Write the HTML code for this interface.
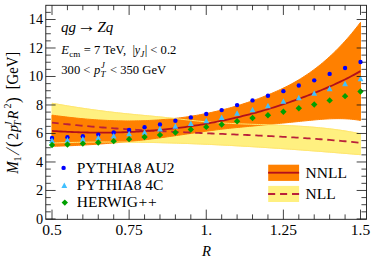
<!DOCTYPE html>
<html lang="en"><head><meta charset="utf-8"><title>plot</title>
<style>html,body{margin:0;padding:0;background:#fff;}svg{display:block;}</style></head>
<body>
<svg width="374" height="260" viewBox="0 0 374 260">
<rect x="0" y="0" width="374" height="260" fill="#ffffff"/>
<polygon points="52.00,103.26 54.22,103.65 56.44,104.03 58.66,104.42 60.88,104.80 63.10,105.17 65.32,105.54 67.54,105.91 69.76,106.27 71.97,106.62 74.19,106.97 76.41,107.32 78.63,107.66 80.85,108.00 83.07,108.33 85.29,108.66 87.51,108.98 89.73,109.29 91.95,109.61 94.17,109.91 96.39,110.21 98.61,110.51 100.83,110.80 103.05,111.09 105.27,111.37 107.49,111.64 109.71,111.91 111.92,112.17 114.14,112.43 116.36,112.68 118.58,112.93 120.80,113.17 123.02,113.41 125.24,113.64 127.46,113.86 129.68,114.08 131.90,114.30 134.12,114.52 136.34,114.73 138.56,114.94 140.78,115.15 143.00,115.35 145.22,115.56 147.44,115.77 149.65,115.98 151.87,116.18 154.09,116.39 156.31,116.60 158.53,116.82 160.75,117.04 162.97,117.25 165.19,117.48 167.41,117.71 169.63,117.94 171.85,118.18 174.07,118.42 176.29,118.67 178.51,118.92 180.73,119.18 182.95,119.43 185.17,119.68 187.38,119.94 189.60,120.19 191.82,120.43 194.04,120.67 196.26,120.90 198.48,121.13 200.70,121.34 202.92,121.55 205.14,121.75 207.36,121.93 209.58,122.11 211.80,122.28 214.02,122.44 216.24,122.59 218.46,122.74 220.68,122.87 222.90,123.01 225.12,123.13 227.33,123.25 229.55,123.36 231.77,123.47 233.99,123.57 236.21,123.67 238.43,123.77 240.65,123.86 242.87,123.95 245.09,124.03 247.31,124.11 249.53,124.19 251.75,124.27 253.97,124.35 256.19,124.42 258.41,124.50 260.63,124.57 262.85,124.65 265.06,124.72 267.28,124.80 269.50,124.88 271.72,124.96 273.94,125.04 276.16,125.12 278.38,125.21 280.60,125.30 282.82,125.39 285.04,125.49 287.26,125.59 289.48,125.69 291.70,125.80 293.92,125.92 296.14,126.04 298.36,126.17 300.58,126.31 302.79,126.45 305.01,126.60 307.23,126.75 309.45,126.92 311.67,127.09 313.89,127.27 316.11,127.46 318.33,127.66 320.55,127.88 322.77,128.10 324.99,128.33 327.21,128.57 329.43,128.83 331.65,129.09 333.87,129.37 336.09,129.66 338.31,129.97 340.53,130.28 342.74,130.62 344.96,130.96 347.18,131.32 349.40,131.70 351.62,132.09 353.84,132.49 356.06,132.92 358.28,133.35 360.50,133.81 360.50,154.66 358.28,154.47 356.06,154.29 353.84,154.10 351.62,153.92 349.40,153.74 347.18,153.55 344.96,153.37 342.74,153.19 340.53,153.01 338.31,152.83 336.09,152.65 333.87,152.47 331.65,152.30 329.43,152.12 327.21,151.95 324.99,151.77 322.77,151.60 320.55,151.43 318.33,151.25 316.11,151.08 313.89,150.91 311.67,150.75 309.45,150.58 307.23,150.41 305.01,150.25 302.79,150.08 300.58,149.92 298.36,149.76 296.14,149.60 293.92,149.44 291.70,149.28 289.48,149.12 287.26,148.97 285.04,148.81 282.82,148.66 280.60,148.51 278.38,148.35 276.16,148.20 273.94,148.06 271.72,147.91 269.50,147.76 267.28,147.62 265.06,147.48 262.85,147.34 260.63,147.20 258.41,147.06 256.19,146.92 253.97,146.78 251.75,146.65 249.53,146.52 247.31,146.39 245.09,146.26 242.87,146.13 240.65,146.00 238.43,145.88 236.21,145.76 233.99,145.63 231.77,145.51 229.55,145.40 227.33,145.28 225.12,145.17 222.90,145.05 220.68,144.94 218.46,144.83 216.24,144.73 214.02,144.62 211.80,144.52 209.58,144.41 207.36,144.31 205.14,144.22 202.92,144.12 200.70,144.02 198.48,143.93 196.26,143.84 194.04,143.75 191.82,143.67 189.60,143.58 187.38,143.50 185.17,143.42 182.95,143.34 180.73,143.26 178.51,143.19 176.29,143.12 174.07,143.05 171.85,142.98 169.63,142.91 167.41,142.85 165.19,142.79 162.97,142.73 160.75,142.67 158.53,142.62 156.31,142.57 154.09,142.52 151.87,142.47 149.65,142.42 147.44,142.38 145.22,142.34 143.00,142.30 140.78,142.27 138.56,142.23 136.34,142.20 134.12,142.17 131.90,142.15 129.68,142.12 127.46,142.10 125.24,142.08 123.02,142.07 120.80,142.06 118.58,142.04 116.36,142.04 114.14,142.03 111.92,142.03 109.71,142.03 107.49,142.03 105.27,142.04 103.05,142.04 100.83,142.05 98.61,142.07 96.39,142.08 94.17,142.10 91.95,142.12 89.73,142.15 87.51,142.17 85.29,142.20 83.07,142.24 80.85,142.27 78.63,142.31 76.41,142.35 74.19,142.40 71.97,142.45 69.76,142.50 67.54,142.55 65.32,142.61 63.10,142.67 60.88,142.73 58.66,142.80 56.44,142.86 54.22,142.94 52.00,143.01" fill="#fff080" stroke="#fff080" stroke-width="1" stroke-linejoin="miter"/>
<polygon points="52.00,115.11 54.22,115.42 56.44,115.72 58.66,116.01 60.88,116.30 63.10,116.58 65.32,116.85 67.54,117.12 69.76,117.37 71.97,117.62 74.19,117.86 76.41,118.10 78.63,118.32 80.85,118.54 83.07,118.74 85.29,118.94 87.51,119.13 89.73,119.31 91.95,119.49 94.17,119.65 96.39,119.80 98.61,119.95 100.83,120.08 103.05,120.21 105.27,120.32 107.49,120.43 109.71,120.53 111.92,120.61 114.14,120.69 116.36,120.75 118.58,120.81 120.80,120.85 123.02,120.89 125.24,120.91 127.46,120.93 129.68,120.93 131.90,120.92 134.12,120.90 136.34,120.87 138.56,120.83 140.78,120.77 143.00,120.71 145.22,120.63 147.44,120.54 149.65,120.44 151.87,120.33 154.09,120.21 156.31,120.07 158.53,119.92 160.75,119.76 162.97,119.58 165.19,119.40 167.41,119.20 169.63,118.98 171.85,118.76 174.07,118.52 176.29,118.27 178.51,118.00 180.73,117.72 182.95,117.43 185.17,117.13 187.38,116.81 189.60,116.47 191.82,116.13 194.04,115.76 196.26,115.39 198.48,115.00 200.70,114.59 202.92,114.17 205.14,113.74 207.36,113.29 209.58,112.83 211.80,112.35 214.02,111.85 216.24,111.35 218.46,110.82 220.68,110.28 222.90,109.73 225.12,109.15 227.33,108.57 229.55,107.96 231.77,107.35 233.99,106.71 236.21,106.06 238.43,105.39 240.65,104.71 242.87,104.01 245.09,103.29 247.31,102.56 249.53,101.81 251.75,101.04 253.97,100.25 256.19,99.45 258.41,98.63 260.63,97.79 262.85,96.94 265.06,96.07 267.28,95.18 269.50,94.27 271.72,93.34 273.94,92.39 276.16,91.42 278.38,90.42 280.60,89.40 282.82,88.35 285.04,87.27 287.26,86.16 289.48,85.01 291.70,83.83 293.92,82.61 296.14,81.35 298.36,80.05 300.58,78.71 302.79,77.32 305.01,75.89 307.23,74.41 309.45,72.89 311.67,71.31 313.89,69.69 316.11,68.01 318.33,66.29 320.55,64.51 322.77,62.68 324.99,60.79 327.21,58.85 329.43,56.85 331.65,54.79 333.87,52.68 336.09,50.50 338.31,48.27 340.53,45.97 342.74,43.61 344.96,41.19 347.18,38.70 349.40,36.15 351.62,33.53 353.84,30.84 356.06,28.08 358.28,25.25 360.50,22.35 360.50,120.45 358.28,120.08 356.06,119.76 353.84,119.48 351.62,119.25 349.40,119.06 347.18,118.90 344.96,118.79 342.74,118.70 340.53,118.66 338.31,118.64 336.09,118.65 333.87,118.69 331.65,118.76 329.43,118.85 327.21,118.96 324.99,119.09 322.77,119.24 320.55,119.41 318.33,119.59 316.11,119.78 313.89,119.98 311.67,120.20 309.45,120.41 307.23,120.63 305.01,120.86 302.79,121.09 300.58,121.31 298.36,121.54 296.14,121.76 293.92,121.98 291.70,122.21 289.48,122.43 287.26,122.66 285.04,122.88 282.82,123.10 280.60,123.32 278.38,123.54 276.16,123.76 273.94,123.98 271.72,124.20 269.50,124.42 267.28,124.64 265.06,124.85 262.85,125.07 260.63,125.28 258.41,125.49 256.19,125.71 253.97,125.92 251.75,126.13 249.53,126.33 247.31,126.54 245.09,126.75 242.87,126.96 240.65,127.17 238.43,127.38 236.21,127.60 233.99,127.82 231.77,128.05 229.55,128.28 227.33,128.53 225.12,128.78 222.90,129.04 220.68,129.31 218.46,129.58 216.24,129.86 214.02,130.15 211.80,130.44 209.58,130.74 207.36,131.05 205.14,131.35 202.92,131.67 200.70,131.98 198.48,132.30 196.26,132.62 194.04,132.95 191.82,133.27 189.60,133.60 187.38,133.93 185.17,134.25 182.95,134.58 180.73,134.91 178.51,135.24 176.29,135.56 174.07,135.88 171.85,136.20 169.63,136.52 167.41,136.84 165.19,137.15 162.97,137.45 160.75,137.76 158.53,138.05 156.31,138.34 154.09,138.63 151.87,138.91 149.65,139.19 147.44,139.46 145.22,139.72 143.00,139.98 140.78,140.24 138.56,140.49 136.34,140.73 134.12,140.97 131.90,141.21 129.68,141.44 127.46,141.66 125.24,141.88 123.02,142.09 120.80,142.30 118.58,142.51 116.36,142.70 114.14,142.90 111.92,143.09 109.71,143.27 107.49,143.45 105.27,143.62 103.05,143.79 100.83,143.95 98.61,144.11 96.39,144.27 94.17,144.41 91.95,144.56 89.73,144.70 87.51,144.83 85.29,144.96 83.07,145.08 80.85,145.20 78.63,145.32 76.41,145.43 74.19,145.53 71.97,145.63 69.76,145.73 67.54,145.82 65.32,145.90 63.10,145.98 60.88,146.06 58.66,146.13 56.44,146.19 54.22,146.26 52.00,146.31" fill="#ff8000" stroke="#ff8000" stroke-width="1" stroke-linejoin="miter"/>
<polyline points="52.00,103.26 54.22,103.65 56.44,104.03 58.66,104.42 60.88,104.80 63.10,105.17 65.32,105.54 67.54,105.91 69.76,106.27 71.97,106.62 74.19,106.97 76.41,107.32 78.63,107.66 80.85,108.00 83.07,108.33 85.29,108.66 87.51,108.98 89.73,109.29 91.95,109.61 94.17,109.91 96.39,110.21 98.61,110.51 100.83,110.80 103.05,111.09 105.27,111.37 107.49,111.64 109.71,111.91 111.92,112.17 114.14,112.43 116.36,112.68 118.58,112.93 120.80,113.17 123.02,113.41 125.24,113.64 127.46,113.86 129.68,114.08 131.90,114.30 134.12,114.52 136.34,114.73 138.56,114.94 140.78,115.15 143.00,115.35 145.22,115.56 147.44,115.77 149.65,115.98 151.87,116.18 154.09,116.39 156.31,116.60 158.53,116.82 160.75,117.04 162.97,117.25 165.19,117.48 167.41,117.71 169.63,117.94 171.85,118.18 174.07,118.42 176.29,118.67 178.51,118.92 180.73,119.18 182.95,119.43 185.17,119.68 187.38,119.94 189.60,120.19 191.82,120.43 194.04,120.67 196.26,120.90 198.48,121.13 200.70,121.34 202.92,121.55 205.14,121.75 207.36,121.93 209.58,122.11 211.80,122.28 214.02,122.44 216.24,122.59 218.46,122.74 220.68,122.87 222.90,123.01 225.12,123.13 227.33,123.25 229.55,123.36 231.77,123.47 233.99,123.57 236.21,123.67 238.43,123.77 240.65,123.86 242.87,123.95 245.09,124.03 247.31,124.11 249.53,124.19 251.75,124.27 253.97,124.35 256.19,124.42 258.41,124.50 260.63,124.57 262.85,124.65 265.06,124.72 267.28,124.80 269.50,124.88 271.72,124.96 273.94,125.04 276.16,125.12 278.38,125.21 280.60,125.30 282.82,125.39 285.04,125.49 287.26,125.59 289.48,125.69 291.70,125.80 293.92,125.92 296.14,126.04 298.36,126.17 300.58,126.31 302.79,126.45 305.01,126.60 307.23,126.75 309.45,126.92 311.67,127.09 313.89,127.27 316.11,127.46 318.33,127.66 320.55,127.88 322.77,128.10 324.99,128.33 327.21,128.57 329.43,128.83 331.65,129.09 333.87,129.37 336.09,129.66 338.31,129.97 340.53,130.28 342.74,130.62 344.96,130.96 347.18,131.32 349.40,131.70 351.62,132.09 353.84,132.49 356.06,132.92 358.28,133.35 360.50,133.81" fill="none" stroke="#ffe670" stroke-width="1.0" />
<polyline points="52.00,143.01 54.22,142.94 56.44,142.86 58.66,142.80 60.88,142.73 63.10,142.67 65.32,142.61 67.54,142.55 69.76,142.50 71.97,142.45 74.19,142.40 76.41,142.35 78.63,142.31 80.85,142.27 83.07,142.24 85.29,142.20 87.51,142.17 89.73,142.15 91.95,142.12 94.17,142.10 96.39,142.08 98.61,142.07 100.83,142.05 103.05,142.04 105.27,142.04 107.49,142.03 109.71,142.03 111.92,142.03 114.14,142.03 116.36,142.04 118.58,142.04 120.80,142.06 123.02,142.07 125.24,142.08 127.46,142.10 129.68,142.12 131.90,142.15 134.12,142.17 136.34,142.20 138.56,142.23 140.78,142.27 143.00,142.30 145.22,142.34 147.44,142.38 149.65,142.42 151.87,142.47 154.09,142.52 156.31,142.57 158.53,142.62 160.75,142.67 162.97,142.73 165.19,142.79 167.41,142.85 169.63,142.91 171.85,142.98 174.07,143.05 176.29,143.12 178.51,143.19 180.73,143.26 182.95,143.34 185.17,143.42 187.38,143.50 189.60,143.58 191.82,143.67 194.04,143.75 196.26,143.84 198.48,143.93 200.70,144.02 202.92,144.12 205.14,144.22 207.36,144.31 209.58,144.41 211.80,144.52 214.02,144.62 216.24,144.73 218.46,144.83 220.68,144.94 222.90,145.05 225.12,145.17 227.33,145.28 229.55,145.40 231.77,145.51 233.99,145.63 236.21,145.76 238.43,145.88 240.65,146.00 242.87,146.13 245.09,146.26 247.31,146.39 249.53,146.52 251.75,146.65 253.97,146.78 256.19,146.92 258.41,147.06 260.63,147.20 262.85,147.34 265.06,147.48 267.28,147.62 269.50,147.76 271.72,147.91 273.94,148.06 276.16,148.20 278.38,148.35 280.60,148.51 282.82,148.66 285.04,148.81 287.26,148.97 289.48,149.12 291.70,149.28 293.92,149.44 296.14,149.60 298.36,149.76 300.58,149.92 302.79,150.08 305.01,150.25 307.23,150.41 309.45,150.58 311.67,150.75 313.89,150.91 316.11,151.08 318.33,151.25 320.55,151.43 322.77,151.60 324.99,151.77 327.21,151.95 329.43,152.12 331.65,152.30 333.87,152.47 336.09,152.65 338.31,152.83 340.53,153.01 342.74,153.19 344.96,153.37 347.18,153.55 349.40,153.74 351.62,153.92 353.84,154.10 356.06,154.29 358.28,154.47 360.50,154.66" fill="none" stroke="#ffe670" stroke-width="1.0" />
<polyline points="52.00,122.52 54.22,122.78 56.44,123.04 58.66,123.29 60.88,123.54 63.10,123.78 65.32,124.02 67.54,124.25 69.76,124.48 71.97,124.71 74.19,124.93 76.41,125.15 78.63,125.37 80.85,125.58 83.07,125.79 85.29,125.99 87.51,126.19 89.73,126.39 91.95,126.58 94.17,126.77 96.39,126.95 98.61,127.14 100.83,127.32 103.05,127.49 105.27,127.66 107.49,127.83 109.71,128.00 111.92,128.17 114.14,128.33 116.36,128.48 118.58,128.64 120.80,128.79 123.02,128.94 125.24,129.09 127.46,129.23 129.68,129.38 131.90,129.52 134.12,129.65 136.34,129.79 138.56,129.92 140.78,130.05 143.00,130.18 145.22,130.31 147.44,130.43 149.65,130.56 151.87,130.68 154.09,130.80 156.31,130.91 158.53,131.03 160.75,131.14 162.97,131.26 165.19,131.37 167.41,131.48 169.63,131.59 171.85,131.69 174.07,131.80 176.29,131.90 178.51,132.01 180.73,132.11 182.95,132.21 185.17,132.31 187.38,132.41 189.60,132.51 191.82,132.61 194.04,132.71 196.26,132.81 198.48,132.90 200.70,133.00 202.92,133.09 205.14,133.19 207.36,133.29 209.58,133.38 211.80,133.48 214.02,133.57 216.24,133.66 218.46,133.76 220.68,133.85 222.90,133.95 225.12,134.04 227.33,134.14 229.55,134.24 231.77,134.33 233.99,134.43 236.21,134.53 238.43,134.62 240.65,134.72 242.87,134.82 245.09,134.92 247.31,135.02 249.53,135.13 251.75,135.23 253.97,135.33 256.19,135.44 258.41,135.54 260.63,135.65 262.85,135.76 265.06,135.87 267.28,135.98 269.50,136.09 271.72,136.21 273.94,136.32 276.16,136.44 278.38,136.56 280.60,136.68 282.82,136.80 285.04,136.93 287.26,137.06 289.48,137.18 291.70,137.32 293.92,137.45 296.14,137.58 298.36,137.72 300.58,137.86 302.79,138.00 305.01,138.15 307.23,138.30 309.45,138.45 311.67,138.60 313.89,138.76 316.11,138.91 318.33,139.07 320.55,139.24 322.77,139.41 324.99,139.58 327.21,139.75 329.43,139.92 331.65,140.10 333.87,140.29 336.09,140.47 338.31,140.66 340.53,140.86 342.74,141.05 344.96,141.25 347.18,141.46 349.40,141.66 351.62,141.88 353.84,142.09 356.06,142.31 358.28,142.53 360.50,142.76" fill="none" stroke="#b9203a" stroke-width="1.8" stroke-dasharray="7.3 4.72" stroke-dashoffset="0.6"/>
<polyline points="52.00,130.94 54.22,131.08 56.44,131.22 58.66,131.36 60.88,131.48 63.10,131.60 65.32,131.72 67.54,131.82 69.76,131.93 71.97,132.02 74.19,132.11 76.41,132.19 78.63,132.26 80.85,132.33 83.07,132.39 85.29,132.44 87.51,132.49 89.73,132.53 91.95,132.56 94.17,132.59 96.39,132.60 98.61,132.61 100.83,132.62 103.05,132.61 105.27,132.60 107.49,132.59 109.71,132.56 111.92,132.53 114.14,132.49 116.36,132.44 118.58,132.39 120.80,132.32 123.02,132.25 125.24,132.17 127.46,132.09 129.68,131.99 131.90,131.89 134.12,131.78 136.34,131.67 138.56,131.54 140.78,131.41 143.00,131.27 145.22,131.12 147.44,130.96 149.65,130.80 151.87,130.63 154.09,130.44 156.31,130.25 158.53,130.06 160.75,129.85 162.97,129.64 165.19,129.41 167.41,129.18 169.63,128.94 171.85,128.69 174.07,128.44 176.29,128.17 178.51,127.90 180.73,127.61 182.95,127.32 185.17,127.02 187.38,126.71 189.60,126.39 191.82,126.07 194.04,125.73 196.26,125.39 198.48,125.03 200.70,124.67 202.92,124.30 205.14,123.92 207.36,123.53 209.58,123.13 211.80,122.72 214.02,122.30 216.24,121.87 218.46,121.43 220.68,120.99 222.90,120.53 225.12,120.06 227.33,119.59 229.55,119.10 231.77,118.61 233.99,118.11 236.21,117.59 238.43,117.07 240.65,116.54 242.87,115.99 245.09,115.44 247.31,114.88 249.53,114.30 251.75,113.72 253.97,113.13 256.19,112.52 258.41,111.91 260.63,111.28 262.85,110.65 265.06,110.01 267.28,109.35 269.50,108.69 271.72,108.01 273.94,107.33 276.16,106.63 278.38,105.92 280.60,105.20 282.82,104.48 285.04,103.74 287.26,102.99 289.48,102.23 291.70,101.46 293.92,100.68 296.14,99.88 298.36,99.08 300.58,98.27 302.79,97.44 305.01,96.61 307.23,95.76 309.45,94.91 311.67,94.04 313.89,93.16 316.11,92.27 318.33,91.37 320.55,90.46 322.77,89.54 324.99,88.60 327.21,87.65 329.43,86.68 331.65,85.70 333.87,84.70 336.09,83.69 338.31,82.66 340.53,81.61 342.74,80.54 344.96,79.44 347.18,78.33 349.40,77.19 351.62,76.04 353.84,74.85 356.06,73.64 358.28,72.41 360.50,71.15" fill="none" stroke="#b2101c" stroke-width="1.8" />
<circle cx="52.00" cy="137.89" r="2.2" fill="#0000ff"/>
<circle cx="67.43" cy="137.32" r="2.2" fill="#0000ff"/>
<circle cx="82.85" cy="136.32" r="2.2" fill="#0000ff"/>
<circle cx="98.28" cy="134.61" r="2.2" fill="#0000ff"/>
<circle cx="113.70" cy="132.48" r="2.2" fill="#0000ff"/>
<circle cx="129.12" cy="129.91" r="2.2" fill="#0000ff"/>
<circle cx="144.55" cy="127.21" r="2.2" fill="#0000ff"/>
<circle cx="159.97" cy="124.50" r="2.2" fill="#0000ff"/>
<circle cx="175.40" cy="120.79" r="2.2" fill="#0000ff"/>
<circle cx="190.82" cy="117.38" r="2.2" fill="#0000ff"/>
<circle cx="206.25" cy="113.96" r="2.2" fill="#0000ff"/>
<circle cx="221.68" cy="110.11" r="2.2" fill="#0000ff"/>
<circle cx="237.10" cy="105.12" r="2.2" fill="#0000ff"/>
<circle cx="252.52" cy="100.42" r="2.2" fill="#0000ff"/>
<circle cx="267.95" cy="95.72" r="2.2" fill="#0000ff"/>
<circle cx="283.38" cy="91.16" r="2.2" fill="#0000ff"/>
<circle cx="298.80" cy="85.46" r="2.2" fill="#0000ff"/>
<circle cx="314.23" cy="80.33" r="2.2" fill="#0000ff"/>
<circle cx="329.65" cy="73.92" r="2.2" fill="#0000ff"/>
<circle cx="345.07" cy="67.94" r="2.2" fill="#0000ff"/>
<circle cx="360.50" cy="61.95" r="2.2" fill="#0000ff"/>
<polygon points="52.00,137.55 49.10,143.06 54.90,143.06" fill="#40c0ff"/>
<polygon points="67.43,136.98 64.53,142.49 70.33,142.49" fill="#40c0ff"/>
<polygon points="82.85,136.12 79.95,141.63 85.75,141.63" fill="#40c0ff"/>
<polygon points="98.28,134.70 95.38,140.21 101.18,140.21" fill="#40c0ff"/>
<polygon points="113.70,132.99 110.80,138.50 116.60,138.50" fill="#40c0ff"/>
<polygon points="129.12,130.85 126.22,136.36 132.03,136.36" fill="#40c0ff"/>
<polygon points="144.55,129.14 141.65,134.65 147.45,134.65" fill="#40c0ff"/>
<polygon points="159.97,125.87 157.07,131.38 162.88,131.38" fill="#40c0ff"/>
<polygon points="175.40,123.30 172.50,128.81 178.30,128.81" fill="#40c0ff"/>
<polygon points="190.82,120.59 187.92,126.10 193.72,126.10" fill="#40c0ff"/>
<polygon points="206.25,117.74 203.35,123.25 209.15,123.25" fill="#40c0ff"/>
<polygon points="221.68,114.61 218.78,120.12 224.58,120.12" fill="#40c0ff"/>
<polygon points="237.10,110.34 234.20,115.85 240.00,115.85" fill="#40c0ff"/>
<polygon points="252.52,106.77 249.62,112.28 255.42,112.28" fill="#40c0ff"/>
<polygon points="267.95,102.78 265.05,108.29 270.85,108.29" fill="#40c0ff"/>
<polygon points="283.38,98.23 280.48,103.74 286.27,103.74" fill="#40c0ff"/>
<polygon points="298.80,94.66 295.90,100.17 301.70,100.17" fill="#40c0ff"/>
<polygon points="314.23,90.25 311.33,95.76 317.12,95.76" fill="#40c0ff"/>
<polygon points="329.65,85.69 326.75,91.20 332.55,91.20" fill="#40c0ff"/>
<polygon points="345.07,80.70 342.18,86.21 347.97,86.21" fill="#40c0ff"/>
<polygon points="360.50,75.71 357.60,81.22 363.40,81.22" fill="#40c0ff"/>
<polygon points="52.00,141.82 55.20,145.02 52.00,148.22 48.80,145.02" fill="#00a000"/>
<polygon points="67.43,141.25 70.63,144.45 67.43,147.65 64.23,144.45" fill="#00a000"/>
<polygon points="82.85,140.39 86.05,143.59 82.85,146.79 79.65,143.59" fill="#00a000"/>
<polygon points="98.28,139.25 101.48,142.45 98.28,145.65 95.08,142.45" fill="#00a000"/>
<polygon points="113.70,137.97 116.90,141.17 113.70,144.37 110.50,141.17" fill="#00a000"/>
<polygon points="129.12,135.97 132.32,139.17 129.12,142.37 125.92,139.17" fill="#00a000"/>
<polygon points="144.55,133.84 147.75,137.04 144.55,140.24 141.35,137.04" fill="#00a000"/>
<polygon points="159.97,131.70 163.17,134.90 159.97,138.10 156.78,134.90" fill="#00a000"/>
<polygon points="175.40,129.28 178.60,132.48 175.40,135.68 172.20,132.48" fill="#00a000"/>
<polygon points="190.82,126.29 194.02,129.49 190.82,132.69 187.62,129.49" fill="#00a000"/>
<polygon points="206.25,123.72 209.45,126.92 206.25,130.12 203.05,126.92" fill="#00a000"/>
<polygon points="221.68,121.30 224.88,124.50 221.68,127.70 218.48,124.50" fill="#00a000"/>
<polygon points="237.10,118.02 240.30,121.22 237.10,124.42 233.90,121.22" fill="#00a000"/>
<polygon points="252.52,114.75 255.72,117.95 252.52,121.15 249.32,117.95" fill="#00a000"/>
<polygon points="267.95,112.04 271.15,115.24 267.95,118.44 264.75,115.24" fill="#00a000"/>
<polygon points="283.38,108.62 286.57,111.82 283.38,115.02 280.18,111.82" fill="#00a000"/>
<polygon points="298.80,105.06 302.00,108.26 298.80,111.46 295.60,108.26" fill="#00a000"/>
<polygon points="314.23,101.35 317.43,104.55 314.23,107.75 311.03,104.55" fill="#00a000"/>
<polygon points="329.65,97.22 332.85,100.42 329.65,103.62 326.45,100.42" fill="#00a000"/>
<polygon points="345.07,92.95 348.27,96.15 345.07,99.35 341.88,96.15" fill="#00a000"/>
<polygon points="360.50,88.24 363.70,91.44 360.50,94.64 357.30,91.44" fill="#00a000"/>
<path d="M52.00 219.30V209.60M52.00 5.28V14.98M67.43 219.30V214.40M67.43 5.28V10.18M82.85 219.30V214.40M82.85 5.28V10.18M98.28 219.30V214.40M98.28 5.28V10.18M113.70 219.30V214.40M113.70 5.28V10.18M129.12 219.30V209.60M129.12 5.28V14.98M144.55 219.30V214.40M144.55 5.28V10.18M159.98 219.30V214.40M159.98 5.28V10.18M175.40 219.30V214.40M175.40 5.28V10.18M190.82 219.30V214.40M190.82 5.28V10.18M206.25 219.30V209.60M206.25 5.28V14.98M221.68 219.30V214.40M221.68 5.28V10.18M237.10 219.30V214.40M237.10 5.28V10.18M252.52 219.30V214.40M252.52 5.28V10.18M267.95 219.30V214.40M267.95 5.28V10.18M283.38 219.30V209.60M283.38 5.28V14.98M298.80 219.30V214.40M298.80 5.28V10.18M314.23 219.30V214.40M314.23 5.28V10.18M329.65 219.30V214.40M329.65 5.28V10.18M345.08 219.30V214.40M345.08 5.28V10.18M360.50 219.30V209.60M360.50 5.28V14.98M45.80 218.96H55.60M366.45 218.96H356.65M45.80 211.84H50.80M366.45 211.84H361.45M45.80 204.71H50.80M366.45 204.71H361.45M45.80 197.59H50.80M366.45 197.59H361.45M45.80 190.47H55.60M366.45 190.47H356.65M45.80 183.34H50.80M366.45 183.34H361.45M45.80 176.22H50.80M366.45 176.22H361.45M45.80 169.09H50.80M366.45 169.09H361.45M45.80 161.97H55.60M366.45 161.97H356.65M45.80 154.85H50.80M366.45 154.85H361.45M45.80 147.72H50.80M366.45 147.72H361.45M45.80 140.60H50.80M366.45 140.60H361.45M45.80 133.48H55.60M366.45 133.48H356.65M45.80 126.35H50.80M366.45 126.35H361.45M45.80 119.23H50.80M366.45 119.23H361.45M45.80 112.10H50.80M366.45 112.10H361.45M45.80 104.98H55.60M366.45 104.98H356.65M45.80 97.86H50.80M366.45 97.86H361.45M45.80 90.73H50.80M366.45 90.73H361.45M45.80 83.61H50.80M366.45 83.61H361.45M45.80 76.49H55.60M366.45 76.49H356.65M45.80 69.36H50.80M366.45 69.36H361.45M45.80 62.24H50.80M366.45 62.24H361.45M45.80 55.11H50.80M366.45 55.11H361.45M45.80 47.99H55.60M366.45 47.99H356.65M45.80 40.87H50.80M366.45 40.87H361.45M45.80 33.74H50.80M366.45 33.74H361.45M45.80 26.62H50.80M366.45 26.62H361.45M45.80 19.50H55.60M366.45 19.50H356.65M45.80 12.37H50.80M366.45 12.37H361.45" stroke="#141414" stroke-width="0.8" fill="none"/>
<rect x="45.80" y="5.28" width="320.65" height="214.02" fill="none" stroke="#141414" stroke-width="0.9"/>
<text transform="translate(43.00,223.56) scale(0.92,1)" x="0" y="0" font-family="'Liberation Serif', 'Times New Roman', serif" font-size="15.5" text-anchor="end" fill="#000">0</text>
<text transform="translate(43.00,195.06) scale(0.92,1)" x="0" y="0" font-family="'Liberation Serif', 'Times New Roman', serif" font-size="15.5" text-anchor="end" fill="#000">2</text>
<text transform="translate(43.00,166.57) scale(0.92,1)" x="0" y="0" font-family="'Liberation Serif', 'Times New Roman', serif" font-size="15.5" text-anchor="end" fill="#000">4</text>
<text transform="translate(43.00,138.08) scale(0.92,1)" x="0" y="0" font-family="'Liberation Serif', 'Times New Roman', serif" font-size="15.5" text-anchor="end" fill="#000">6</text>
<text transform="translate(43.00,109.58) scale(0.92,1)" x="0" y="0" font-family="'Liberation Serif', 'Times New Roman', serif" font-size="15.5" text-anchor="end" fill="#000">8</text>
<text transform="translate(43.00,81.09) scale(0.92,1)" x="0" y="0" font-family="'Liberation Serif', 'Times New Roman', serif" font-size="15.5" text-anchor="end" fill="#000">10</text>
<text transform="translate(43.00,52.59) scale(0.92,1)" x="0" y="0" font-family="'Liberation Serif', 'Times New Roman', serif" font-size="15.5" text-anchor="end" fill="#000">12</text>
<text transform="translate(43.00,24.10) scale(0.92,1)" x="0" y="0" font-family="'Liberation Serif', 'Times New Roman', serif" font-size="15.5" text-anchor="end" fill="#000">14</text>
<text x="52.00" y="235.00" font-family="'Liberation Serif', 'Times New Roman', serif" font-size="15.5" text-anchor="middle" fill="#000">0.5</text>
<text x="129.12" y="235.00" font-family="'Liberation Serif', 'Times New Roman', serif" font-size="15.5" text-anchor="middle" fill="#000">0.75</text>
<text x="206.25" y="235.00" font-family="'Liberation Serif', 'Times New Roman', serif" font-size="15.5" text-anchor="middle" fill="#000">1.</text>
<text x="283.38" y="235.00" font-family="'Liberation Serif', 'Times New Roman', serif" font-size="15.5" text-anchor="middle" fill="#000">1.25</text>
<text x="360.50" y="235.00" font-family="'Liberation Serif', 'Times New Roman', serif" font-size="15.5" text-anchor="middle" fill="#000">1.5</text>
<text x="206.6" y="255.6" font-family="'Liberation Serif', 'Times New Roman', serif" font-size="14.8" font-style="italic" text-anchor="middle" fill="#000">R</text>
<g transform="translate(17.90,173.70) rotate(-90) scale(1,1.08)"><text x="0.00" y="0.00" font-family="'Liberation Serif', 'Times New Roman', serif" font-size="14.84" font-style="italic" fill="#000">M</text><text x="12.20" y="2.60" font-family="'Liberation Serif', 'Times New Roman', serif" font-size="10.08" fill="#000">1</text><text x="26.40" y="0.90" font-family="'Liberation Serif', 'Times New Roman', serif" font-size="17.50" fill="#000">(</text><text x="34.00" y="0.00" font-family="'Liberation Serif', 'Times New Roman', serif" font-size="14.00" fill="#000">2</text><text x="41.70" y="0.00" font-family="'Liberation Serif', 'Times New Roman', serif" font-size="14.00" font-style="italic" fill="#000">p</text><text x="47.20" y="3.00" font-family="'Liberation Serif', 'Times New Roman', serif" font-size="10.08" font-style="italic" fill="#000">T</text><text x="47.80" y="-5.60" font-family="'Liberation Serif', 'Times New Roman', serif" font-size="10.08" font-style="italic" fill="#000">J</text><text x="54.40" y="0.00" font-family="'Liberation Serif', 'Times New Roman', serif" font-size="14.00" font-style="italic" fill="#000">R</text><text x="65.30" y="-6.60" font-family="'Liberation Serif', 'Times New Roman', serif" font-size="10.08" fill="#000">2</text><text x="70.60" y="0.90" font-family="'Liberation Serif', 'Times New Roman', serif" font-size="17.50" fill="#000">)</text><text x="84.40" y="0.00" font-family="'Liberation Serif', 'Times New Roman', serif" font-size="14.70" fill="#000">[GeV]</text><text transform="translate(18.3,1.0) skewX(-17)" x="0" y="0" font-family="'Liberation Serif', 'Times New Roman', serif" font-size="18" fill="#000">/</text></g>
<text x="61.0" y="32.3" font-family="'Liberation Serif', 'Times New Roman', serif" font-size="15.0" font-style="italic" fill="#000">qg</text>
<text x="76.9" y="32.4" font-family="'Liberation Serif', 'Times New Roman', serif" font-size="19" fill="#000">→</text>
<text x="97.5" y="32.3" font-family="'Liberation Serif', 'Times New Roman', serif" font-size="15.0" font-style="italic" fill="#000">Zq</text>
<text x="61.30" y="54.20" font-family="'Liberation Serif', 'Times New Roman', serif" font-size="12.60" font-style="italic" fill="#000">E</text><text x="69.20" y="56.80" font-family="'Liberation Serif', 'Times New Roman', serif" font-size="9.07" fill="#000">cm</text><text x="83.70" y="54.20" font-family="'Liberation Serif', 'Times New Roman', serif" font-size="12.60" fill="#000">= 7 TeV,</text><text x="132.60" y="54.20" font-family="'Liberation Serif', 'Times New Roman', serif" font-size="12.60" fill="#000">|</text><text x="134.80" y="54.20" font-family="'Liberation Serif', 'Times New Roman', serif" font-size="11.97" font-style="italic" fill="#000">y</text><text x="140.20" y="56.80" font-family="'Liberation Serif', 'Times New Roman', serif" font-size="9.07" font-style="italic" fill="#000">J</text><text x="144.70" y="54.20" font-family="'Liberation Serif', 'Times New Roman', serif" font-size="12.60" fill="#000">| &lt; 0.2</text>
<text x="61.30" y="73.80" font-family="'Liberation Serif', 'Times New Roman', serif" font-size="12.60" fill="#000">300 &lt;</text><text x="94.00" y="73.80" font-family="'Liberation Serif', 'Times New Roman', serif" font-size="12.60" font-style="italic" fill="#000">p</text><text x="100.50" y="77.00" font-family="'Liberation Serif', 'Times New Roman', serif" font-size="9.07" font-style="italic" fill="#000">T</text><text x="100.90" y="68.20" font-family="'Liberation Serif', 'Times New Roman', serif" font-size="8.57" font-style="italic" fill="#000">J</text><text x="110.00" y="73.80" font-family="'Liberation Serif', 'Times New Roman', serif" font-size="12.60" fill="#000">&lt; 350 GeV</text>
<circle cx="63.6" cy="167.9" r="2.2" fill="#0000ff"/>
<polygon points="64.30,182.56 61.40,188.08 67.20,188.08" fill="#40c0ff"/>
<polygon points="64.80,199.40 68.00,202.60 64.80,205.80 61.60,202.60" fill="#00a000"/>
<text x="76.8" y="172.50" font-family="'Liberation Serif', 'Times New Roman', serif" font-size="15.5" fill="#000">PYTHIA8 AU2</text>
<text x="76.8" y="189.60" font-family="'Liberation Serif', 'Times New Roman', serif" font-size="15.5" fill="#000">PYTHIA8 4C</text>
<text x="76.8" y="207.00" font-family="'Liberation Serif', 'Times New Roman', serif" font-size="15.5" fill="#000">HERWIG<tspan dx="0.6">+</tspan><tspan dx="0.6">+</tspan></text>
<rect x="268.2" y="164.7" width="30.9" height="16.2" fill="#ff8000"/>
<path d="M268.1 172.7H299.1" stroke="#b2101c" stroke-width="1.85"/>
<rect x="268.2" y="185.9" width="30.9" height="16.1" fill="#fff080"/>
<path d="M268.1 194.0H299.1" stroke="#b9203a" stroke-width="1.85" stroke-dasharray="7.1 4.85"/>
<text x="305.6" y="177.6" font-family="'Liberation Serif', 'Times New Roman', serif" font-size="15.5" fill="#000">NNLL</text>
<text x="305.6" y="198.7" font-family="'Liberation Serif', 'Times New Roman', serif" font-size="15.5" fill="#000">NLL</text>
</svg>
</body></html>
